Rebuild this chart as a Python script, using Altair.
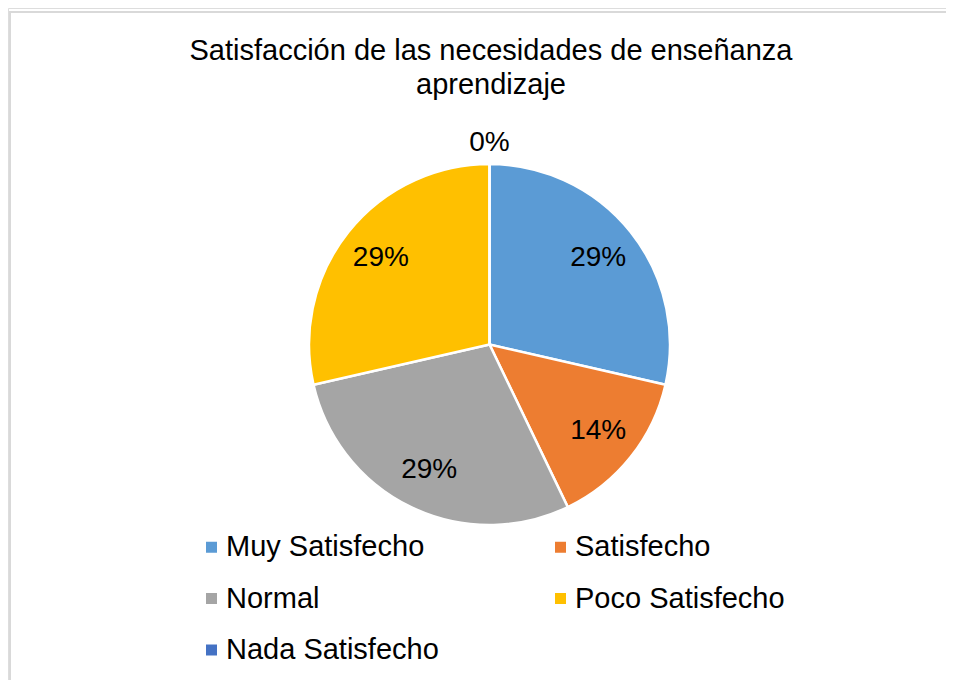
import altair as alt
import pandas as pd

categories = ["Muy Satisfecho", "Satisfecho", "Normal", "Poco Satisfecho", "Nada Satisfecho"]
counts = [2, 1, 2, 2, 0]
colors = ["#5B9BD5", "#ED7D31", "#A5A5A5", "#FFC000", "#4472C4"]
title_lines = ["Satisfacción de las necesidades de enseñanza", "aprendizaje"]

df = pd.DataFrame({"categoria": categories, "valor": counts, "orden": list(range(len(categories)))})

FONT = "Liberation Sans"
CX, CY, R = 481.5, 336.5, 180.5

base = alt.Chart(df).transform_joinaggregate(
    total="sum(valor)"
).transform_calculate(
    pct="format(datum.valor / datum.total, '.0%')"
)

theta = alt.Theta("valor:Q", stack=True)
order = alt.Order("orden:Q")

arcs = base.mark_arc(stroke="white", strokeWidth=2.5, outerRadius=R).encode(
    theta=theta,
    order=order,
    x=alt.value(CX),
    y=alt.value(CY),
    color=alt.Color(
        "categoria:N",
        scale=alt.Scale(domain=categories, range=colors),
        sort=categories,
        legend=alt.Legend(
            title=None,
            orient="none",
            direction="horizontal",
            legendX=189,
            legendY=524.5,
            columns=2,
            columnPadding=107,
            rowPadding=21.5,
            symbolType="square",
            symbolSize=121,
            symbolStrokeWidth=0,
            labelFont=FONT,
            labelFontSize=29,
            labelColor="#000000",
            labelOffset=0,
            labelLimit=500,
            padding=0,
        ),
    ),
)

labels = base.transform_filter("datum.valor > 0").mark_text(
    radius=139, font=FONT, fontSize=28, color="#000000", baseline="middle", align="center"
).encode(
    theta=theta,
    order=order,
    x=alt.value(CX),
    y=alt.value(CY),
    text="pct:N",
)

zero_labels = base.mark_text(
    radius=202, font=FONT, fontSize=28, color="#000000", baseline="middle", align="center"
).encode(
    theta=theta,
    order=order,
    x=alt.value(CX),
    y=alt.value(CY),
    text="pct:N",
    opacity=alt.condition("datum.valor == 0", alt.value(1), alt.value(0)),
)

border_top = alt.Chart(pd.DataFrame({"k": [0]})).mark_rule(color="#d9d9d9", strokeWidth=2).encode(
    x=alt.value(1), x2=alt.value(938), y=alt.value(4)
)
border_left = alt.Chart(pd.DataFrame({"k": [0]})).mark_rule(color="#d9d9d9", strokeWidth=2).encode(
    x=alt.value(2), y=alt.value(3), y2=alt.value(672)
)

chart = alt.layer(border_top, border_left, arcs, labels, zero_labels).properties(
    width=938,
    height=672,
    padding=0,
    autosize=alt.AutoSizeParams(type="none"),
    title=alt.TitleParams(
        text=title_lines,
        font=FONT,
        fontSize=29,
        fontWeight="normal",
        color="#000000",
        anchor="middle",
        lineHeight=34,
        baseline="top",
        offset=-92,
        dx=14,
    ),
).configure_view(stroke=None).configure(background="white")

chart.save("out.html", embed_options={"renderer": "svg", "actions": False})
